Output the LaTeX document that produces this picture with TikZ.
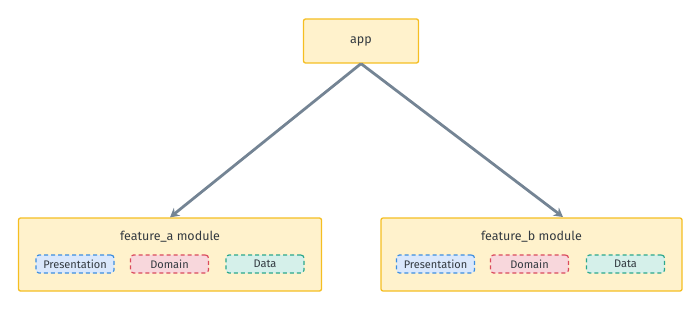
\documentclass[tikz,border=0pt]{standalone}
\usepackage{fontspec}
\setmainfont{Fira Sans}
\usepackage{tikz}
\usetikzlibrary{arrows.meta,positioning,calc}

\definecolor{boxfill}{HTML}{FFF2CC}
\definecolor{boxline}{HTML}{F5BE22}
\definecolor{arrowgray}{HTML}{748494}
\definecolor{presfill}{HTML}{DAE8FC}
\definecolor{presline}{HTML}{3D8EE0}
\definecolor{domfill}{HTML}{F8D7DC}
\definecolor{domline}{HTML}{DA4A5C}
\definecolor{datafill}{HTML}{D5F0EA}
\definecolor{dataline}{HTML}{2BA88C}
\definecolor{labeltext}{HTML}{333A40}

\tikzset{
  modbox/.style={draw=boxline, fill=boxfill, line width=1.3pt, rounded corners=2pt},
  layerbox/.style={line width=1.2pt, rounded corners=3pt, dash pattern=on 4pt off 3pt,
    minimum width=78pt, minimum height=18pt, inner sep=0pt, font=\fontsize{11}{12}\selectfont},
  pres/.style={layerbox, draw=presline, fill=presfill},
  dom/.style={layerbox, draw=domline, fill=domfill},
  dat/.style={layerbox, draw=dataline, fill=datafill},
  dep/.style={->, draw=arrowgray, line width=2.8pt, >={Stealth[length=9pt,width=10pt]}},
}

\begin{document}
\begin{tikzpicture}[x=1pt, y=-1pt, text=labeltext]
  \useasboundingbox (0,0) rectangle (700,310);

  % Define the modules
  \node[modbox, minimum width=115pt, minimum height=44pt, font=\fontsize{12.5}{14}\selectfont] (app) at (361, 41) {app};
  \node[modbox, minimum width=303pt, minimum height=73pt] (fa) at (170, 254.5) {};
  \node[modbox, minimum width=301pt, minimum height=73pt] (fb) at (531.5, 254.5) {};

  % Module titles
  \node[font=\fontsize{12.5}{14}\selectfont] (fatitle) at (170, 237) {feature\_a module};
  \node[font=\fontsize{12.5}{14}\selectfont] (fbtitle) at (531.5, 237) {feature\_b module};

  % Layers of feature_a
  \node[pres] (apres) at (75, 264) {Presentation};
  \node[dom] (adom) at (169.5, 264) {Domain};
  \node[dat] (adata) at (265, 264) {Data};

  % Layers of feature_b
  \node[pres] (bpres) at (435.5, 264) {Presentation};
  \node[dom] (bdom) at (529.5, 264) {Domain};
  \node[dat] (bdata) at (625.5, 264) {Data};

  % Draw arrows between modules
  \coordinate (fbin) at (563, 217);
  \draw[dep] (app.south) to (fa.north);
  \draw[dep] (app.south) to (fbin);
\end{tikzpicture}
\end{document}
